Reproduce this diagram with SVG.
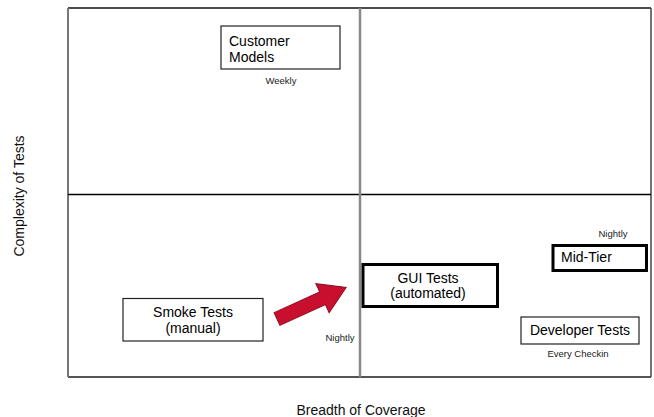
<svg xmlns="http://www.w3.org/2000/svg" width="654" height="417" viewBox="0 0 654 417">
<style>
text{font-family:"Liberation Sans",Arial,sans-serif;fill:#000}
.b{font-size:14px}
.s{font-size:9.5px;fill:#222}
.ax{font-size:14px;fill:#111}
.box{fill:#fff;stroke:#222;stroke-width:1.2}
.thick{fill:#fff;stroke:#000;stroke-width:3}
</style>
<rect width="654" height="417" fill="#fff"/>
<g id="grid">
<line x1="68" y1="8" x2="651" y2="8" stroke="#111" stroke-width="1.5"/>
<line x1="68" y1="377" x2="651" y2="377" stroke="#555" stroke-width="2"/>
<line x1="68" y1="8" x2="68" y2="377" stroke="#777" stroke-width="2"/>
<line x1="651" y1="8" x2="651" y2="377" stroke="#444" stroke-width="1.5"/>
<line x1="68" y1="194.5" x2="651" y2="194.5" stroke="#000" stroke-width="1.3"/>
<line x1="360" y1="8" x2="360" y2="377" stroke="#888" stroke-width="2.5"/>
</g>
<g id="customer-models">
<rect class="box" x="221" y="26" width="119" height="43"/>
<text class="b" x="229" y="46">Customer</text>
<text class="b" x="229" y="62">Models</text>
<text class="s" x="281" y="84" text-anchor="middle">Weekly</text>
</g>
<g id="smoke-tests">
<rect class="box" x="123" y="298.5" width="140" height="42.5"/>
<text class="b" x="193" y="317" text-anchor="middle">Smoke Tests</text>
<text class="b" x="193" y="333" text-anchor="middle">(manual)</text>
</g>
<g id="gui-tests">
<rect class="thick" x="363" y="264.5" width="134.5" height="42"/>
<text class="b" x="428" y="283" text-anchor="middle">GUI Tests</text>
<text class="b" x="428" y="298" text-anchor="middle">(automated)</text>
<text class="s" x="340" y="341" text-anchor="middle">Nightly</text>
</g>
<g id="mid-tier">
<rect class="thick" x="553" y="245.5" width="93.5" height="25"/>
<text class="b" x="561" y="262">Mid-Tier</text>
<text class="s" x="613" y="237" text-anchor="middle">Nightly</text>
</g>
<g id="developer-tests">
<rect class="box" x="521" y="317" width="118" height="27"/>
<text class="b" x="580" y="335" text-anchor="middle">Developer Tests</text>
<text class="s" x="578" y="357" text-anchor="middle">Every Checkin</text>
</g>
<g id="connectors">
<polygon points="0,-7 50,-7 50,-16 76,0 50,16 50,7 0,7" transform="translate(277,319) rotate(-24.5)" fill="#c8102e" stroke="#8e0c20" stroke-width="1"/>
</g>
<g id="axes">
<text class="ax" x="361" y="415" text-anchor="middle">Breadth of Coverage</text>
<text class="ax" transform="translate(23.5,196) rotate(-90)" text-anchor="middle">Complexity of Tests</text>
</g>
</svg>
